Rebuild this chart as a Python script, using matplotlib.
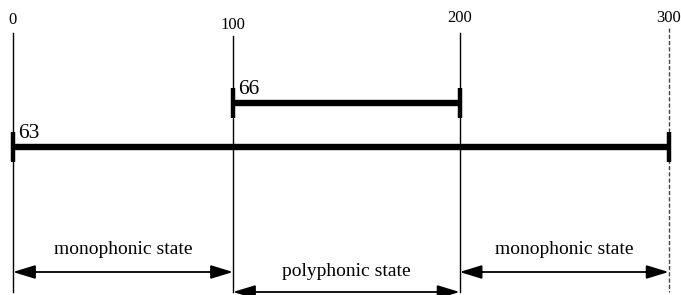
import matplotlib
matplotlib.use("Agg")
import matplotlib.pyplot as plt

# Data
marker_labels = ["0", "100", "200", "300"]
marker_pos = [0, 100, 203, 298]          # positions of the vertical guides (schematic)
bar_labels = ["63", "66"]
bar_start = [0, 100]
bar_end = [298, 203]
state_labels = ["monophonic state", "polyphonic state", "monophonic state"]
state_start = [0, 100, 203]
state_end = [100, 203, 298]

plt.rcParams['font.family'] = ['Liberation Serif', 'DejaVu Serif']

fig = plt.figure(figsize=(6.81, 2.95), dpi=100)
ax = fig.add_axes([0, 0, 1, 1])
# x: 2.2 px per unit, 0 at pixel 13 ; y: pixel rows (top=0)
ax.set_xlim(-13 / 2.2, (681 - 13) / 2.2)
ax.set_ylim(295, 0)
ax.axis('off')

# vertical guides and their labels
label_y = [20, 25, 18, 18]
line_top = [33, 36, 33, 28]
for i, (p, lab) in enumerate(zip(marker_pos, marker_labels)):
    ls = '--' if i == len(marker_pos) - 1 else '-'
    col = '#444444' if ls == '--' else 'black'
    ax.plot([p, p], [line_top[i], 292], color=col, lw=1.0, ls=ls,
            dashes=(3, 1.5) if ls == '--' else (None, None))
    ax.text(p, label_y[i], lab, ha='center', va='center', fontsize=12)

# bars with end caps
bar_y = [147, 103]
for s, e, lab, y in zip(bar_start, bar_end, bar_labels, bar_y):
    ax.plot([s, e], [y, y], color='black', lw=4.6, solid_capstyle='butt')
    for xx in (s, e):
        ax.plot([xx, xx], [y - 15, y + 15], color='black', lw=3.2, solid_capstyle='butt')
    ax.text(s + 2.5, y - 13, lab, ha='left', va='center', fontsize=15.5)

# state arrows
arrow_y = [272, 292, 272]
text_y = [250, 272, 250]
for s, e, lab, ay, ty in zip(state_start, state_end, state_labels, arrow_y, text_y):
    ax.annotate('', xy=(e, ay), xytext=(s, ay),
                arrowprops=dict(arrowstyle='<|-|>,head_length=0.85,head_width=0.26',
                                mutation_scale=16, color='black', lw=1.3,
                                shrinkA=0, shrinkB=0))
    ax.text((s + e) / 2, ty, lab, ha='center', va='center', fontsize=14)

fig.savefig('out.png', dpi=100)
